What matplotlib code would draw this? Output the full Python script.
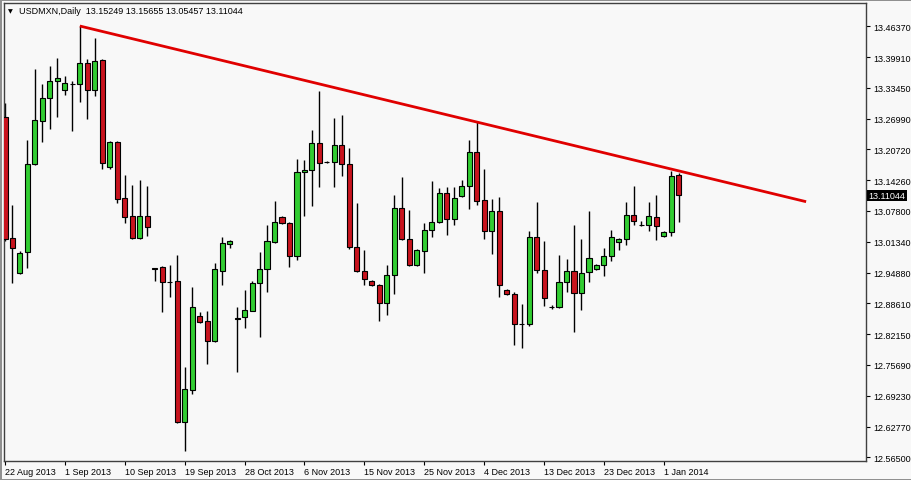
#!/usr/bin/env python
# -*- coding: utf-8 -*-

"""plot.py

USDMXN daily candlestick chart (MetaTrader style) with a falling red trend line.
"""

import matplotlib
matplotlib.use("Agg")
import matplotlib.pyplot as plt

# daily OHLC, one entry per bar
opens = [13.2740, 13.0217, 12.9487, 12.9925, 13.1760, 13.2656, 13.3136, 13.3490, 13.3303, 13.3428,
         13.3428, 13.3866, 13.3303, 13.3928, 13.1697, 13.2229, 13.1051, 13.0676, 13.0217, 13.0676,
         12.9581, 12.9612, 12.9299, 12.9320, 12.6380, 12.7048, 12.8591, 12.8486, 12.8069, 12.9529,
         13.0102, 12.8528, 12.8570, 12.8695, 12.9279, 12.9571, 13.0133, 13.0655, 13.0530, 12.9842,
         13.1593, 13.1635, 13.2198, 13.1801, 13.1801, 13.2156, 13.1760, 13.0029, 12.9529, 12.9320,
         12.9237, 12.8862, 12.9445, 13.0842, 13.0196, 12.9654, 12.9946, 13.0384, 13.0550, 13.1155,
         13.0613, 13.1093, 13.1301, 13.2010, 13.1009, 13.0363, 13.0780, 12.9133, 12.9049, 12.8424,
         12.8424, 13.0238, 12.9550, 12.8778, 12.8778, 12.9299, 12.9529, 12.9070, 12.9508, 12.9571,
         12.9654, 12.9842, 13.0133, 13.0196, 13.0696, 13.0488, 13.0488, 13.0655, 13.0259, 13.0342,
         13.15249]
highs = [13.3032, 13.0905, 12.9946, 13.2260, 13.3741, 13.3428, 13.3803, 13.3970, 13.3595, 13.3490,
         13.4637, 13.3949, 13.4387, 13.3949, 13.2239, 13.2239, 13.1530, 13.1322, 13.1426, 13.1301,
         12.9591, 12.9633, 12.9654, 12.9862, 12.7527, 12.9195, 12.8674, 12.8695, 12.9696, 13.0238,
         13.0165, 12.8778, 12.9133, 12.9320, 12.9925, 13.0488, 13.0988, 13.0676, 13.0550, 13.1864,
         13.1843, 13.2469, 13.3282, 13.1822, 13.2719, 13.2781, 13.2093, 13.0947, 12.9967, 12.9341,
         12.9258, 12.9654, 13.1113, 13.1489, 13.0801, 12.9988, 13.0530, 13.1405, 13.1259, 13.1280,
         13.1280, 13.1426, 13.2260, 13.2635, 13.1656, 13.1030, 13.1072, 12.9154, 12.9091, 12.8841,
         13.0363, 13.0967, 13.0154, 12.8820, 12.9862, 12.9779, 13.0488, 13.0196, 13.0780, 12.9675,
         13.0008, 13.0384, 13.0217, 13.0967, 13.1301, 13.0571, 13.0967, 13.1113, 13.0363, 13.1614,
         13.15655]
lows = [13.0154, 12.9279, 12.9466, 12.9591, 13.1739, 13.2218, 13.2490, 13.2740, 13.3198, 13.2448,
        13.3052, 13.2698, 13.3178, 13.1656, 13.1656, 13.0947, 13.0530, 13.0196, 13.0196, 13.0259,
        12.9320, 12.8674, 12.8987, 12.6360, 12.5776, 12.6964, 12.8445, 12.7590, 12.8048, 12.9237,
        13.0008, 12.7423, 12.8340, 12.8690, 12.8153, 12.9091, 13.0113, 13.0509, 12.9612, 12.9758,
        13.0676, 13.0884, 13.1280, 13.1781, 13.1280, 13.1510, 12.9988, 12.9508, 12.9237, 12.9216,
        12.8486, 12.8611, 12.9049, 13.0175, 12.9633, 12.9633, 12.9487, 13.0238, 13.0530, 13.0279,
        13.0488, 13.1072, 13.0822, 13.0905, 13.0196, 12.9883, 12.8987, 12.9028, 12.7986, 12.7923,
        12.8382, 12.9487, 12.8799, 12.8737, 12.8757, 12.9091, 12.8257, 12.8716, 12.9299, 12.9550,
        12.9425, 12.9737, 12.9967, 13.0071, 13.0488, 13.0467, 13.0363, 13.0175, 13.0238, 13.0259,
        13.05457]
closes = [13.0196, 13.0008, 12.9904, 13.1760, 13.2677, 13.3136, 13.3490, 13.3553, 13.3449, 13.3432,
          13.3866, 13.3303, 13.3907, 13.1781, 13.2229, 13.1030, 13.0655, 13.0217, 13.0676, 13.0446,
          12.9577, 12.9299, 12.9295, 12.6380, 12.7069, 12.8778, 12.8465, 12.8069, 12.9571, 13.0113,
          13.0154, 12.8549, 12.8716, 12.9279, 12.9571, 13.0154, 13.0550, 13.0530, 12.9842, 13.1593,
          13.1635, 13.2198, 13.1781, 13.1797, 13.2156, 13.1760, 13.0029, 12.9529, 12.9362, 12.9237,
          12.8862, 12.9445, 13.0842, 13.0196, 12.9654, 12.9967, 13.0384, 13.0550, 13.1155, 13.0613,
          13.1051, 13.1301, 13.2010, 13.0988, 13.0363, 13.0780, 12.9237, 12.9049, 12.8424, 12.8420,
          13.0238, 12.9550, 12.8966, 12.8774, 12.9299, 12.9529, 12.9070, 12.9487, 12.9800, 12.9654,
          12.9842, 13.0238, 13.0196, 13.0696, 13.0571, 13.0492, 13.0676, 13.0467, 13.0342, 13.1510,
          13.11044]

# trend line: from the September high to beyond the last bar
trend_x = [10, 107]
trend_y = [13.4637, 13.0974]

date_ticks = [0, 8, 16, 24, 32, 40, 48, 56, 64, 72, 80, 88]
date_labels = ["22 Aug 2013", "1 Sep 2013", "10 Sep 2013", "19 Sep 2013", "28 Oct 2013",
               "6 Nov 2013", "15 Nov 2013", "25 Nov 2013", "4 Dec 2013", "13 Dec 2013",
               "23 Dec 2013", "1 Jan 2014"]
price_ticks = [13.46370, 13.39910, 13.33450, 13.26990, 13.20720, 13.14260, 13.07800,
               13.01340, 12.94880, 12.88610, 12.82150, 12.75690, 12.69230, 12.62770, 12.56500]

BG = "#f8f8f8"
FONT = ["Liberation Sans", "DejaVu Sans"]


def draw_candles(ax):
    """Wicks as vertical lines, bodies as bars."""
    xs = list(range(len(opens)))
    ax.vlines(xs, lows, highs, color="black", linewidth=1, zorder=2)
    bottoms = [min(o, c) for o, c in zip(opens, closes)]
    heights = [max(abs(c - o), 0.0003) for o, c in zip(opens, closes)]
    colors = ["#32cd32" if c >= o else "#c8141e" for o, c in zip(opens, closes)]
    ax.bar(xs, heights, bottom=bottoms, width=0.68, color=colors,
           edgecolor="black", linewidth=0.8, zorder=3)


def main():
    fig = plt.figure(figsize=(9.12, 4.81), dpi=100, facecolor=BG)
    ax = fig.add_axes([4 / 912, 1 - 462 / 481, 862 / 912, 458 / 481])
    ax.set_facecolor(BG)

    draw_candles(ax)
    ax.plot(trend_x, trend_y, color="#e00000", linewidth=2, zorder=4,
            solid_capstyle="butt")

    ax.set_xlim(-0.13, 115.0)
    ax.set_ylim(12.5567, 13.5117)

    ax.yaxis.tick_right()
    ax.set_yticks(price_ticks)
    ax.set_yticklabels(["%.5f" % p for p in price_ticks], family=FONT, fontsize=6.5)
    ax.tick_params(axis="y", direction="out", length=3, pad=2, width=0.8)

    ax.set_xticks(date_ticks)
    ax.set_xticklabels(date_labels, family=FONT, fontsize=6.5, ha="left")
    ax.tick_params(axis="x", direction="out", length=3, pad=1.5, width=0.8)

    for spine in ax.spines.values():
        spine.set_color("#404040")
        spine.set_linewidth(1)

    # last price marker on the price scale
    ax.text(1.003, closes[-1], "%.5f" % closes[-1], transform=ax.get_yaxis_transform(),
            family=FONT, fontsize=6.5, color="white", va="center", ha="left",
            bbox=dict(boxstyle="square,pad=0.15", facecolor="black", edgecolor="none"))

    # header
    fig.text(8 / 912, 1 - 12 / 481, "\u25bc", family="DejaVu Sans", fontsize=4.5,
             va="center", ha="left")
    fig.text(19 / 912, 1 - 12 / 481,
             "USDMXN,Daily  %.5f %.5f %.5f %.5f" % (opens[-1], highs[-1], lows[-1], closes[-1]),
             family=FONT, fontsize=6.5, va="center", ha="left")

    fig.patch.set_edgecolor("#909090")
    fig.patch.set_linewidth(2)
    fig.savefig("out.png", dpi=100, facecolor=fig.get_facecolor(),
                edgecolor=fig.get_edgecolor())


if __name__ == "__main__":
    main()
